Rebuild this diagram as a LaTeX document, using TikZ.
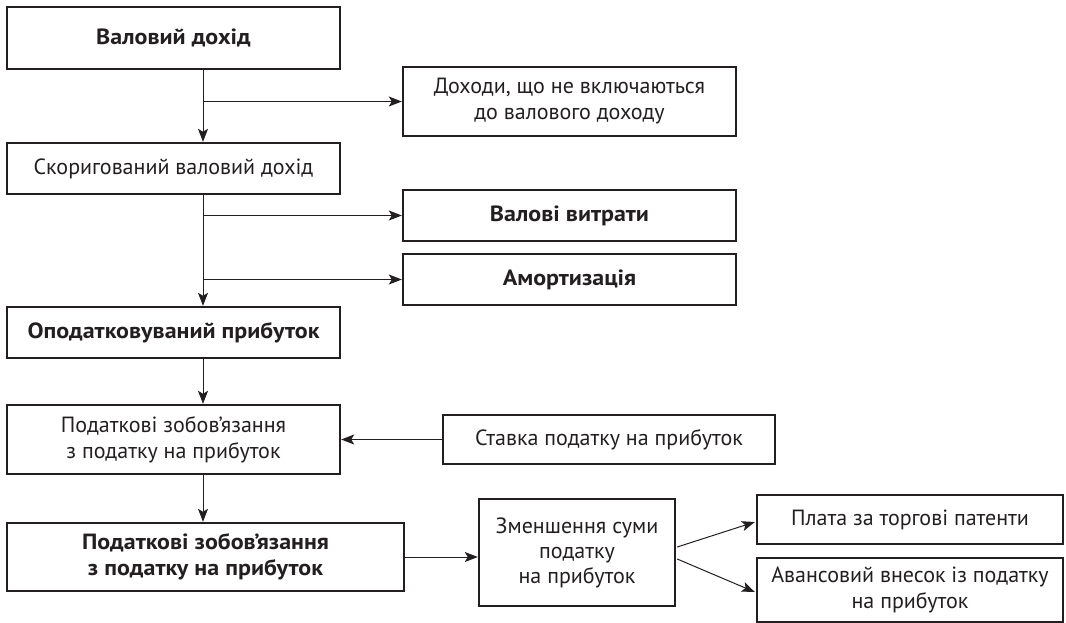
\documentclass[tikz,border=0pt]{standalone}
\usepackage{fontspec}
\setmainfont{PT Sans}
\newfontfamily\widefont{PT Sans}[FakeStretch=1.09]
\usetikzlibrary{arrows.meta,calc}
\definecolor{ink}{HTML}{231F20}
\tikzset{
  box/.style={draw=ink, line width=2.4pt, rectangle, inner sep=1pt, align=center,
    text=ink, font=\fontsize{22}{26}\selectfont},
  bbox/.style={box, font=\fontsize{22}{26}\selectfont\widefont\bfseries},
  conn/.style={draw=ink, line width=1pt},
  arr/.style={conn, -{Stealth[length=13pt,width=10pt,inset=3pt]}}
}
\begin{document}
\begin{tikzpicture}[x=1pt,y=-1pt]
\useasboundingbox (0,0) rectangle (1066,622);
\node[bbox, minimum width=333, minimum height=62] (b1) at (173.5,38) {Валовий дохід};
\node[box, minimum width=333, minimum height=69] (b2) at (569.5,101.5) {Доходи, що не включаються\\до валового доходу};
\node[box, minimum width=333, minimum height=51] (b3) at (173.5,168.5) {Скоригований валовий дохід};
\node[bbox, minimum width=333, minimum height=51] (b4) at (569.5,215.5) {Валові витрати};
\node[bbox, minimum width=333, minimum height=51] (b5) at (569.5,279.5) {Амортизація};
\node[bbox, minimum width=333, minimum height=51] (b6) at (173.5,332.5) {Оподатковуваний прибуток};
\node[box, minimum width=333, minimum height=69] (b7) at (173.5,439.5) {Податкові зобов’язання\\з податку на прибуток};
\node[box, minimum width=332, minimum height=49] (b8) at (609,439.5) {Ставка податку на прибуток};
\node[bbox, minimum width=397, minimum height=68] (b9) at (205.5,557) {Податкові зобов’язання\\з податку на прибуток};
\node[box, minimum width=196, minimum height=107, font=\fontsize{22}{25}\selectfont] (b10) at (577,552.5) {Зменшення суми\\податку\\на прибуток};
\node[box, minimum width=306, minimum height=49] (b11) at (910,519.5) {Плата за торгові патенти};
\node[box, minimum width=306, minimum height=64] (b12) at (910,590) {Авансовий внесок із податку\\на прибуток};
\coordinate (t) at (203,0);
% trunk
\draw[arr] (b1.south -| t) -- (b3.north -| t);
\draw[arr] (b3.south -| t) -- (b6.north -| t);
\draw[arr] (b6.south -| t) -- (b7.north -| t);
\draw[arr] (b7.south -| t) -- (b9.north -| t);
% branches
\draw[arr] (b2.west -| t) -- (b2.west);
\draw[arr] (b4.west -| t) -- (b4.west);
\draw[arr] (b5.west -| t) -- (b5.west);
\draw[arr] (b8.west) -- (b7.east);
\draw[arr] (b9.east) -- (b9.east -| b10.west);
\draw[arr] ($(b10.east)+(1,-5.5)$) -- ($(b11.west)+(-1,2.5)$);
\draw[arr] ($(b10.east)+(1,6.5)$) -- ($(b12.west)+(-1,2)$);
\end{tikzpicture}
\end{document}
